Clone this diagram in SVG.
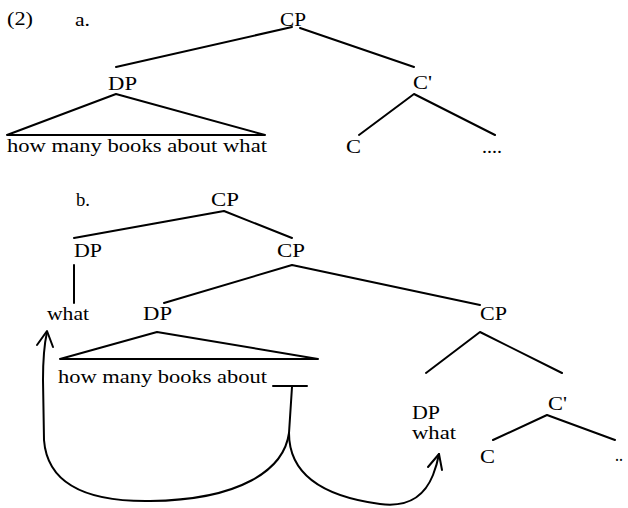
<svg xmlns="http://www.w3.org/2000/svg" width="628" height="508" viewBox="0 0 628 508">
<style>
text{font-family:"Liberation Serif","Times New Roman",serif;font-size:18px;fill:#000}
.e{stroke:#000;stroke-width:2;fill:none;stroke-linecap:round;stroke-linejoin:round}
.m{stroke:#000;stroke-width:2;fill:none;stroke-linecap:round;stroke-linejoin:round}
</style>
<rect width="628" height="508" fill="#fff"/>
<g id="labels">
<text x="7" y="25" textLength="26" lengthAdjust="spacingAndGlyphs">(2)</text>
<text x="75" y="26" textLength="15" lengthAdjust="spacingAndGlyphs">a.</text>
<text x="76" y="206" textLength="14" lengthAdjust="spacingAndGlyphs">b.</text>
</g>
<g id="a-CP"><text x="280" y="26" textLength="26" lengthAdjust="spacingAndGlyphs">CP</text></g>
<g id="a-DP"><text x="108" y="90" textLength="29" lengthAdjust="spacingAndGlyphs">DP</text></g>
<g id="a-Cbar"><text x="413" y="89" textLength="19" lengthAdjust="spacingAndGlyphs">C'</text></g>
<g id="a-phrase"><text x="7" y="152" textLength="260" lengthAdjust="spacingAndGlyphs">how many books about what</text></g>
<g id="a-C"><text x="346" y="153" textLength="15" lengthAdjust="spacingAndGlyphs">C</text></g>
<g id="a-dots"><text x="482" y="153" textLength="20" lengthAdjust="spacingAndGlyphs">....</text></g>
<g id="b-CP1"><text x="211" y="206" textLength="28" lengthAdjust="spacingAndGlyphs">CP</text></g>
<g id="b-DP1"><text x="74" y="257" textLength="28" lengthAdjust="spacingAndGlyphs">DP</text></g>
<g id="b-CP2"><text x="277" y="257" textLength="28" lengthAdjust="spacingAndGlyphs">CP</text></g>
<g id="b-what1"><text x="47" y="320" textLength="42" lengthAdjust="spacingAndGlyphs">what</text></g>
<g id="b-DP2"><text x="143" y="320" textLength="29" lengthAdjust="spacingAndGlyphs">DP</text></g>
<g id="b-CP3"><text x="480" y="320" textLength="27" lengthAdjust="spacingAndGlyphs">CP</text></g>
<g id="b-phrase"><text x="58" y="383" textLength="209" lengthAdjust="spacingAndGlyphs">how many books about</text></g>
<g id="b-DP3"><text x="412" y="419" textLength="28" lengthAdjust="spacingAndGlyphs">DP</text><text x="412" y="439" textLength="44" lengthAdjust="spacingAndGlyphs">what</text></g>
<g id="b-Cbar"><text x="548" y="410" textLength="19" lengthAdjust="spacingAndGlyphs">C'</text></g>
<g id="b-C"><text x="480" y="463" textLength="15" lengthAdjust="spacingAndGlyphs">C</text></g>
<g id="b-dots"><text x="615" y="461" textLength="8" lengthAdjust="spacingAndGlyphs">..</text></g>
<g id="connectors">
<path class="e" d="M292 27L116 67M300 28L414 67M116 94L7 135L265 135Z M414 94L359 135M414 94L495 135"/>
<path class="e" d="M224 211L74 238M224 211L292 238M74 265L74 303M292 265L164 303M292 265L480 305M157 332L60 359L318 359Z M480 332L426 373M480 332L562 373M547 415L493 440M547 415L615 440"/>
<path class="e" d="M273 386L307 386M292 387L289 433"/>
<path class="m" d="M289 433C284 470 240 500 150 501C80 502 47 480 44 440L43 380Q43 350 47 332"/>
<path class="m" d="M37 345L47 331L53 347"/>
<path class="m" d="M289 433C289 472 320 496 380 504C410 508 425 495 433 475Q437 465 439 454"/>
<path class="m" d="M428 467L439 454L442 470"/>
</g>
</svg>
